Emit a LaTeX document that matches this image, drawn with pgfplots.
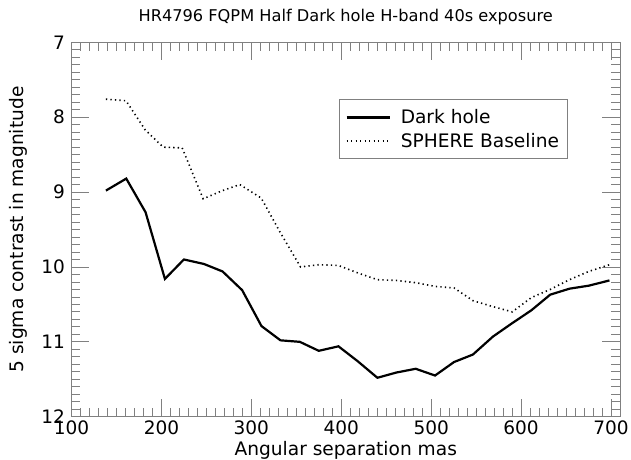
\documentclass[border=0pt]{standalone}
\usepackage{fontspec}
\setmainfont{DejaVu Sans}
\usepackage{pgfplots}
\pgfplotsset{compat=1.18}
\begin{document}
\begin{tikzpicture}[x=1pt,y=1pt]
\path[use as bounding box] (-71.5,-42.3) rectangle (559.5,416.7);
\begin{axis}[
  at={(0,0)}, anchor=south west,
  scale only axis, width=548.5pt, height=374.4pt,
  xmin=100, xmax=710, ymin=7, ymax=12, y dir=reverse,
  xtick={100,200,300,400,500,600,700},
  ytick={7,8,9,10,11,12},
  minor x tick num=9, minor y tick num=9,
  major tick length=18pt, minor tick length=9pt,
  tick align=inside,
  every tick/.style={gray, line width=0.8pt},
  axis line style={gray, line width=0.9pt},
  tick label style={font=\fontsize{18.5}{22}\selectfont},
  /pgf/number format/assume math mode=true,
  xticklabel style={yshift=-1pt},
  yticklabel style={xshift=-3pt},
  title={HR4796 FQPM Half Dark hole H-band 40s exposure},
  title style={at={(axis description cs:0.5,1)}, anchor=base, yshift=15.3pt, font=\fontsize{16.2}{19}\selectfont},
  xlabel={Angular separation mas},
  xlabel style={at={(axis description cs:0.5,0)}, anchor=base, yshift=-39pt, font=\fontsize{18.6}{22}\selectfont},
  ylabel={5 sigma contrast in magnitude},
  ylabel style={at={([xshift=-48.2pt]axis description cs:0,0.5)}, anchor=base, font=\fontsize{18.6}{22}\selectfont},
  legend style={at={(0.488,0.848)}, anchor=north west, draw=gray, line width=0.8pt, fill=white,
    font=\fontsize{18.6}{22}\selectfont, inner xsep=6pt, inner ysep=8pt,
    row sep=4pt,
    /tikz/every odd column/.append style={column sep=8pt}},
  legend cell align=left,
  legend image code/.code={\draw[#1] (0pt,0pt) -- (43pt,0pt);},
]
\addplot[black, line width=2.2pt] coordinates {
(138.3,8.98) (160.9,8.82) (182.4,9.27) (203.9,10.16) (225.0,9.90) (247.2,9.96)
(268.0,10.06) (289.8,10.31) (311.3,10.79) (332.4,10.98) (353.9,11.00) (375.0,11.12)
(396.9,11.06) (418.4,11.26) (440.2,11.48) (461.3,11.41) (482.8,11.36) (504.3,11.45)
(525.4,11.27) (546.4,11.17) (568.7,10.93) (590.2,10.75) (611.3,10.58) (632.4,10.37)
(653.9,10.29) (675.3,10.25) (698.3,10.18)
};
\addlegendentry{Dark hole}
\addplot[black, line width=1.6pt, dash pattern=on 1.3pt off 3.2pt] coordinates {
(138.3,7.76) (160.6,7.78) (182.0,8.17) (202.0,8.40) (223.1,8.41) (246.4,9.09)
(268.0,8.98) (287.2,8.90) (311.0,9.08) (331.7,9.53) (354.7,10.00) (375.0,9.97)
(396.9,9.98) (418.4,10.08) (440.2,10.17) (461.3,10.18) (482.8,10.21) (504.3,10.26)
(525.4,10.28) (546.4,10.45) (568.7,10.53) (590.2,10.60) (611.3,10.41) (632.4,10.30)
(653.9,10.17) (675.3,10.06) (698.3,9.97)
};
\addlegendentry{SPHERE Baseline}
\end{axis}
\end{tikzpicture}
\end{document}
